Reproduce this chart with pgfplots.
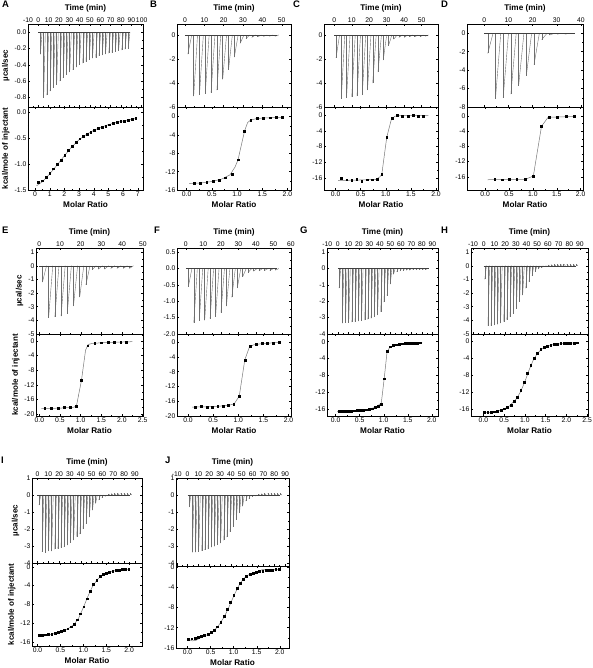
\documentclass[border=0pt]{standalone}
\usepackage{fontspec}
\setmainfont{Liberation Sans}
\usepackage{pgfplots}
\pgfplotsset{compat=1.18}
\usepackage{pgfplotstable}

\definecolor{spk}{RGB}{110,110,110}
\definecolor{fitc}{RGB}{120,120,120}

\pgfplotsset{
 itc/.style={
   scale only axis, anchor=south west,
   axis line style={line width=0.5pt},
   tick align=inside,
   major tick length=2.2pt, minor tick length=1.3pt,
   tick style={line width=0.4pt, black},
   tick label style={font=\fontsize{6.8}{7.5}\selectfont},
   ylabel style={font=\bfseries\fontsize{8}{9}\selectfont},
   /pgf/number format/assume math mode=true,
   minor x tick num=1, minor y tick num=1,
   xticklabel style={inner sep=1.5pt}, yticklabel style={inner sep=1.5pt},
 },
 itctop/.style={itc, xticklabel pos=right, xlabel={Time (min)}, xlabel near ticks,
   xlabel style={font=\bfseries\fontsize{8.2}{9}\selectfont}},
 itcbot/.style={itc, xlabel={Molar Ratio}, xlabel near ticks,
   xlabel style={font=\bfseries\fontsize{8.2}{9}\selectfont}},
 zf/.style={/pgf/number format/.cd, fixed, fixed zerofill, precision=1},
 spkline/.style={color=spk, line width=0.4pt},
 base/.style={color=black!75, line width=0.4pt},
 fitl/.style={color=fitc, line width=0.5pt},
 pts/.style={only marks, mark=square*, mark size=0.9pt, black},
}
\newcommand{\spikes}[2]{%
  \addplot[spkline, ycomb] table[x=t,y=p]{#1};
  \addplot[spkline, quiver={u=#2, v={-1*(\thisrow{p})}}] table[x=t,y=p]{#1};
}

% ---------------- Panel A
\pgfplotstableread{
t p
2.0 -0.27
5.15 -0.80
8.3 -0.77
11.45 -0.72
14.6 -0.68
17.75 -0.64
20.9 -0.60
24.05 -0.56
27.2 -0.52
30.35 -0.49
33.5 -0.46
36.65 -0.43
39.8 -0.40
42.95 -0.38
46.1 -0.36
49.25 -0.34
52.4 -0.32
55.55 -0.31
58.7 -0.29
61.85 -0.28
65.0 -0.27
68.15 -0.26
71.3 -0.25
74.45 -0.24
77.6 -0.23
80.75 -0.22
83.9 -0.21
87.05 -0.20
}\sA
\pgfplotstableread{
x y
0.23 -1.35
0.49 -1.32
0.74 -1.25
1.00 -1.17
1.25 -1.09
1.51 -1.00
1.76 -0.92
2.02 -0.83
2.27 -0.74
2.53 -0.66
2.78 -0.58
3.04 -0.51
3.29 -0.46
3.55 -0.42
3.80 -0.38
4.06 -0.34
4.31 -0.31
4.57 -0.29
4.82 -0.27
5.08 -0.24
5.33 -0.22
5.59 -0.20
5.84 -0.18
6.10 -0.17
6.35 -0.15
6.61 -0.14
6.86 -0.12
}\pA
\pgfplotstableread{
x y
0.10 -1.42
0.50 -1.34
1.00 -1.19
1.50 -1.02
2.00 -0.84
2.50 -0.67
3.00 -0.53
3.50 -0.43
4.00 -0.35
4.50 -0.29
5.00 -0.24
5.50 -0.20
6.00 -0.17
6.50 -0.14
6.90 -0.12
}\fA
% ---------------- Panel B
\pgfplotstableread{
t p
1.5 -1.6
4.5 -5.1
7.5 -5.0
10.5 -4.9
13.5 -4.8
16.5 -4.6
19.5 -3.7
22.5 -2.9
25.5 -1.85
28.5 -0.7
31.5 -0.3
34.5 -0.2
37.5 -0.15
40.5 -0.12
43.5 -0.1
46.5 -0.1
}\sB
\pgfplotstableread{
x y
0.15 -14.6
0.27 -14.5
0.40 -14.3
0.52 -14.1
0.65 -13.8
0.77 -13.3
0.90 -12.5
1.02 -9.4
1.15 -3.1
1.27 -0.7
1.40 -0.4
1.52 -0.3
1.65 -0.25
1.78 -0.2
1.90 -0.15
}\pB
\pgfplotstableread{
x y
0.05 -14.6
0.30 -14.45
0.50 -14.15
0.70 -13.6
0.86 -12.7
0.96 -11.0
1.02 -9.4
1.09 -6.0
1.15 -3.1
1.21 -1.3
1.27 -0.75
1.40 -0.4
1.60 -0.27
1.90 -0.15
}\fB
% ---------------- Panel C
\pgfplotstableread{
t p
1 -1.9
4 -5.3
7 -5.25
10 -5.15
13 -5.1
16 -5.0
19 -4.6
22 -4.0
25 -3.1
28 -2.1
31 -0.9
34 -0.35
37 -0.2
40 -0.2
43 -0.15
46 -0.15
49 -0.15
52 -0.1
}\sC
\pgfplotstableread{
x y
0.12 -16.0
0.22 -16.4
0.32 -16.6
0.42 -16.2
0.52 -16.7
0.63 -16.4
0.73 -16.4
0.83 -16.2
0.92 -15.1
1.02 -5.6
1.12 -0.9
1.22 -0.1
1.33 -0.25
1.44 -0.25
1.54 -0.05
1.65 -0.3
1.75 -0.3
}\pC
\pgfplotstableread{
x y
0.05 -16.6
0.40 -16.5
0.80 -16.35
0.88 -15.7
0.92 -15.1
1.02 -5.6
1.11 -1.2
1.18 -0.35
1.28 -0.2
1.85 -0.2
}\fC
% ---------------- Panel D
\pgfplotstableread{
t p
1.4 -2.2
4.6 -7.1
7.8 -7.0
11.0 -6.6
14.2 -5.7
17.4 -4.6
20.6 -3.4
23.8 -0.7
27.0 -0.2
30.2 -0.1
33.4 -0.1
}\sD
\pgfplotstableread{
x y
0.20 -16.6
0.35 -16.8
0.51 -16.7
0.66 -16.7
0.84 -16.6
1.01 -15.8
1.18 -2.7
1.34 -0.3
1.51 -0.2
1.69 -0.1
1.87 -0.1
}\pD
\pgfplotstableread{
x y
0.05 -16.8
0.84 -16.7
1.01 -15.8
1.18 -2.7
1.32 -0.3
1.87 -0.1
}\fD
% ---------------- Panel E
\pgfplotstableread{
t p
1.5 -1.2
4.5 -3.8
7.5 -3.75
10.5 -3.7
13.5 -3.5
16.5 -2.95
19.5 -2.3
22.5 -1.4
25.5 -0.3
28.5 -0.25
31.5 -0.25
34.5 -0.2
37.5 -0.2
40.5 -0.2
43.5 -0.2
}\sE
\pgfplotstableread{
x y
0.13 -18.4
0.29 -18.4
0.45 -18.3
0.60 -18.2
0.74 -18.2
0.89 -17.8
1.02 -10.8
1.17 -1.3
1.34 -0.6
1.50 -0.5
1.66 -0.4
1.82 -0.35
1.97 -0.3
2.10 -0.25
}\pE
\pgfplotstableread{
x y
0.05 -18.5
0.50 -18.35
0.84 -18.1
0.90 -17.7
1.02 -10.8
1.12 -2.5
1.18 -1.0
1.28 -0.65
1.60 -0.45
2.25 -0.2
}\fE
% ---------------- Panel F
\pgfplotstableread{
t p
1.5 -0.55
4.6 -1.65
7.7 -1.6
10.8 -1.58
13.9 -1.53
17.0 -1.47
20.1 -1.35
23.2 -1.15
26.3 -0.88
29.4 -0.6
32.5 -0.25
35.6 -0.12
38.7 -0.08
41.8 -0.07
44.9 -0.06
48.0 -0.06
51.1 -0.05
}\sF
\pgfplotstableread{
x y
0.15 -17.7
0.26 -17.4
0.38 -17.6
0.48 -17.6
0.59 -17.3
0.70 -17.4
0.80 -17.1
0.91 -16.8
1.02 -14.6
1.13 -4.8
1.24 -1.1
1.35 -0.6
1.47 -0.35
1.58 -0.25
1.69 -0.2
1.82 -0.1
}\pF
\pgfplotstableread{
x y
0.08 -17.6
0.50 -17.45
0.80 -17.15
0.92 -16.7
1.02 -14.6
1.13 -4.8
1.22 -1.4
1.30 -0.75
1.50 -0.35
1.82 -0.1
}\fF
% ---------------- Panel G
\pgfplotstableread{
t p
1.2 -1.2
4.25 -3.35
7.3 -3.3
10.35 -3.3
13.4 -3.28
16.45 -3.25
19.5 -3.22
22.55 -3.2
25.6 -3.15
28.65 -3.1
31.7 -3.05
34.75 -2.95
37.8 -2.85
40.85 -2.65
43.9 -2.05
46.95 -1.65
50.0 -0.95
53.05 -0.35
56.1 -0.2
59.15 -0.15
62.2 -0.12
65.25 -0.1
68.3 -0.1
71.35 -0.08
74.4 -0.08
77.45 -0.07
80.5 -0.07
83.55 -0.06
}\sG
\pgfplotstableread{
x y
0.07 -16.6
0.13 -16.5
0.20 -16.55
0.26 -16.5
0.32 -16.5
0.38 -16.45
0.45 -16.4
0.51 -16.35
0.57 -16.3
0.63 -16.2
0.70 -16.1
0.76 -15.95
0.82 -15.7
0.88 -15.3
0.95 -14.8
1.01 -8.8
1.07 -2.2
1.13 -1.2
1.20 -0.9
1.26 -0.7
1.32 -0.6
1.38 -0.5
1.45 -0.45
1.51 -0.4
1.57 -0.38
1.63 -0.35
1.70 -0.3
1.76 -0.25
}\pG
\pgfplotstableread{
x y
0.03 -16.6
0.40 -16.45
0.70 -16.1
0.85 -15.5
0.95 -14.6
1.01 -8.8
1.07 -2.4
1.13 -1.3
1.25 -0.8
1.45 -0.5
1.80 -0.25
}\fG
% ---------------- Panel H
\pgfplotstableread{
t p
1.0 -1.0
3.95 -4.4
6.9 -4.4
9.85 -4.35
12.8 -4.3
15.75 -4.2
18.7 -4.1
21.65 -3.95
24.6 -3.75
27.55 -3.5
30.5 -3.15
33.45 -2.65
36.4 -2.15
39.35 -1.65
42.3 -1.2
45.25 -0.75
48.2 -0.45
51.15 -0.25
54.1 -0.15
57.05 -0.08
60.0 0.05
62.95 0.08
65.9 0.1
68.85 0.1
71.8 0.12
74.75 0.12
77.7 0.12
80.65 0.12
83.6 0.12
86.55 0.12
}\sH
\pgfplotstableread{
x y
0.02 -16.8
0.10 -16.8
0.18 -16.7
0.26 -16.6
0.34 -16.4
0.42 -16.2
0.50 -15.9
0.58 -15.5
0.66 -15.0
0.74 -14.2
0.82 -13.1
0.90 -11.6
0.98 -9.7
1.06 -7.6
1.14 -5.7
1.22 -4.1
1.30 -2.9
1.38 -2.0
1.46 -1.5
1.54 -1.15
1.62 -0.95
1.70 -0.8
1.78 -0.7
1.86 -0.6
1.94 -0.55
2.02 -0.5
2.10 -0.45
2.18 -0.42
2.26 -0.4
}\pH
\pgfplotstableread{
x y
0.00 -16.85
0.20 -16.75
0.40 -16.3
0.60 -15.5
0.80 -13.5
0.90 -11.8
1.00 -9.5
1.10 -6.8
1.20 -4.5
1.30 -2.9
1.40 -1.9
1.55 -1.1
1.70 -0.8
2.00 -0.55
2.26 -0.4
}\fH
% ---------------- Panel I
\pgfplotstableread{
t p
1.5 -0.6
4.4 -3.35
7.3 -3.4
10.2 -3.3
13.1 -3.3
16.0 -3.2
18.9 -3.15
21.8 -3.1
24.7 -3.05
27.6 -2.95
30.5 -2.8
33.4 -2.65
36.3 -2.45
39.2 -2.3
42.1 -2.0
45.0 -1.7
47.9 -1.3
50.8 -0.9
53.7 -0.5
56.6 -0.3
59.5 -0.15
62.4 -0.08
65.3 0.05
68.2 0.08
71.1 0.1
74.0 0.1
76.9 0.1
79.8 0.1
82.7 0.1
85.6 0.1
}\sI
\pgfplotstableread{
x y
0.03 -14.6
0.10 -14.6
0.17 -14.5
0.24 -14.4
0.31 -14.3
0.38 -14.15
0.45 -14.0
0.52 -13.8
0.59 -13.5
0.66 -13.2
0.73 -12.8
0.80 -12.2
0.87 -11.3
0.94 -10.0
1.01 -8.5
1.08 -6.8
1.15 -5.2
1.22 -3.8
1.29 -2.8
1.36 -2.1
1.43 -1.6
1.50 -1.3
1.57 -1.1
1.64 -0.9
1.71 -0.8
1.78 -0.7
1.85 -0.6
1.92 -0.55
1.99 -0.5
}\pI
\pgfplotstableread{
x y
0.03 -14.6
0.15 -14.75
0.30 -14.4
0.50 -13.9
0.65 -13.3
0.80 -12.3
0.90 -10.9
1.00 -8.7
1.10 -6.3
1.20 -4.2
1.30 -2.8
1.40 -1.8
1.50 -1.3
1.65 -0.9
1.80 -0.7
2.00 -0.5
}\fI
% ---------------- Panel J
\pgfplotstableread{
t p
1.5 -0.7
4.4 -3.35
7.3 -3.35
10.2 -3.3
13.1 -3.25
16.0 -3.2
18.9 -3.15
21.8 -3.05
24.7 -3.0
27.6 -2.9
30.5 -2.8
33.4 -2.65
36.3 -2.45
39.2 -2.15
42.1 -1.85
45.0 -1.45
47.9 -1.05
50.8 -0.65
53.7 -0.35
56.6 -0.2
59.5 -0.1
62.4 -0.05
65.3 0.05
68.2 0.08
71.1 0.1
74.0 0.1
76.9 0.1
79.8 0.1
82.7 0.1
85.6 0.1
}\sJ
\pgfplotstableread{
x y
0.02 -14.2
0.09 -14.15
0.16 -14.0
0.23 -13.9
0.30 -13.75
0.37 -13.55
0.44 -13.3
0.51 -12.95
0.58 -12.5
0.65 -11.8
0.72 -10.9
0.79 -9.7
0.86 -8.4
0.93 -7.0
1.00 -5.6
1.07 -4.3
1.14 -3.2
1.21 -2.4
1.28 -1.85
1.35 -1.5
1.42 -1.25
1.49 -1.05
1.56 -0.9
1.63 -0.8
1.70 -0.72
1.77 -0.65
1.84 -0.6
1.91 -0.55
1.98 -0.5
}\pJ
\pgfplotstableread{
x y
0.02 -14.3
0.10 -14.6
0.18 -14.5
0.30 -13.9
0.50 -13.1
0.65 -11.9
0.80 -9.8
0.90 -7.9
1.00 -5.8
1.10 -3.9
1.20 -2.5
1.30 -1.7
1.40 -1.3
1.55 -0.9
1.62 -0.55
1.80 -0.6
1.98 -0.5
}\fJ

\begin{document}
\begin{tikzpicture}
\useasboundingbox (0,0) rectangle (592pt,668pt);
\tikzset{plab/.style={anchor=north west, inner sep=0pt, font=\bfseries\fontsize{9.5}{10}\selectfont}}
\node[plab] at (2pt,667pt) {A};
\node[plab] at (150pt,667pt) {B};
\node[plab] at (293pt,667pt) {C};
\node[plab] at (441pt,667pt) {D};
\node[plab] at (2pt,441pt) {E};
\node[plab] at (154pt,441pt) {F};
\node[plab] at (300pt,441pt) {G};
\node[plab] at (441pt,441pt) {H};
\node[plab] at (1pt,211pt) {I};
\node[plab] at (165pt,211pt) {J};

% ===== A
\begin{axis}[itctop, at={(28pt,561pt)}, width=115pt, height=83pt,
  xmin=-10, xmax=101.3, xtick={-10,0,...,100},
  ymin=-0.915, ymax=0.1, ytick={-0.8,-0.6,-0.4,-0.2,0}, yticklabel style={zf},
  ylabel={\textmu cal/sec}]
\spikes{\sA}{1.6}
\addplot[base] coordinates {(0,0) (89,0)};
\end{axis}
\begin{axis}[itcbot, at={(28pt,478pt)}, width=115pt, height=83pt,
  xmin=-0.48, xmax=7.36, xtick={0,1,...,7},
  ymin=-1.5, ymax=0.1, ytick={-1.5,-1,-0.5,0}, yticklabel style={zf},
  ylabel={kcal/mole of injectant}]
\addplot[fitl] table{\fA};
\addplot[pts] table{\pA};
\end{axis}

% ===== B
\begin{axis}[itctop, at={(177pt,561pt)}, width=114pt, height=83pt,
  xmin=-4.1, xmax=54.8, xtick={0,10,...,50},
  ymin=-6, ymax=0.92, ytick={-6,-4,-2,0}]
\spikes{\sB}{2.0}
\addplot[base] coordinates {(0,0) (47.5,0)};
\end{axis}
\begin{axis}[itcbot, at={(177pt,478pt)}, width=114pt, height=83pt,
  xmin=-0.19, xmax=2.07, xtick={0,0.5,...,2}, xticklabel style={zf},
  ymin=-16, ymax=2.1, ytick={-16,-12,-8,-4,0}]
\addplot[fitl] table{\fB};
\addplot[pts] table{\pB};
\end{axis}

% ===== C
\begin{axis}[itctop, at={(324pt,561pt)}, width=114pt, height=83pt,
  xmin=-5.9, xmax=59.4, xtick={0,10,...,60},
  ymin=-6, ymax=0.92, ytick={-6,-4,-2,0}]
\spikes{\sC}{2.0}
\addplot[base] coordinates {(0,0) (53.5,0)};
\end{axis}
\begin{axis}[itcbot, at={(324pt,478pt)}, width=114pt, height=83pt,
  xmin=-0.23, xmax=2.04, xtick={0,0.5,...,2}, xticklabel style={zf},
  ymin=-19, ymax=2, ytick={-16,-12,-8,-4,0}]
\addplot[fitl] table{\fC};
\addplot[pts] table{\pC};
\end{axis}

% ===== D
\begin{axis}[itctop, at={(467pt,561pt)}, width=116pt, height=83pt,
  xmin=-7.2, xmax=40.9, xtick={0,10,...,40},
  ymin=-8, ymax=1, ytick={-8,-6,-4,-2,0}]
\spikes{\sD}{2.2}
\addplot[base] coordinates {(0,0) (37.5,0)};
\end{axis}
\begin{axis}[itcbot, at={(467pt,478pt)}, width=116pt, height=83pt,
  xmin=-0.38, xmax=2.05, xtick={0,0.5,...,2}, xticklabel style={zf},
  ymin=-19.5, ymax=2.4, ytick={-16,-12,-8,-4,0}]
\addplot[fitl] table{\fD};
\addplot[pts] table{\pD};
\end{axis}

% ===== E
\begin{axis}[itctop, at={(36pt,334pt)}, width=107pt, height=86pt,
  xmin=-1.6, xmax=50.1, xtick={0,10,...,50},
  ymin=-5, ymax=1.3, ytick={-5,-4,...,1},
  ylabel={\textmu cal/sec}]
\spikes{\sE}{2.0}
\addplot[base] coordinates {(0,0) (44.7,0)};
\end{axis}
\begin{axis}[itcbot, at={(36pt,252pt)}, width=107pt, height=82pt,
  xmin=-0.08, xmax=2.51, xtick={0,0.5,...,2.5}, xticklabel style={zf},
  ymin=-20.5, ymax=1.9, ytick={-20,-16,-12,-8,-4,0},
  ylabel={kcal/mole of injectant}]
\addplot[fitl] table{\fE};
\addplot[pts] table{\pE};
\end{axis}

% ===== F
\begin{axis}[itctop, at={(177pt,334pt)}, width=114pt, height=86pt,
  xmin=-5, xmax=60.1, xtick={0,10,...,60},
  ymin=-2, ymax=0.63, ytick={-2,-1.5,-1,-0.5,0,0.5}, yticklabel style={zf}]
\spikes{\sF}{2.0}
\addplot[base] coordinates {(0,0) (52,0)};
\end{axis}
\begin{axis}[itcbot, at={(177pt,252pt)}, width=114pt, height=82pt,
  xmin=-0.22, xmax=2.05, xtick={0,0.5,...,2}, xticklabel style={zf},
  ymin=-20, ymax=2.2, ytick={-20,-16,-12,-8,-4,0}]
\addplot[fitl] table{\fF};
\addplot[pts] table{\pF};
\end{axis}

% ===== G
\begin{axis}[itctop, at={(327pt,334pt)}, width=111pt, height=86pt,
  xmin=-10.3, xmax=95.4, xtick={-10,0,...,90},
  ymin=-4, ymax=1.26, ytick={-4,-3,...,1}]
\spikes{\sG}{1.5}
\addplot[base] coordinates {(0,0) (86.7,0)};
\end{axis}
\begin{axis}[itcbot, at={(327pt,252pt)}, width=111pt, height=82pt,
  xmin=-0.18, xmax=2.13, xtick={0,0.5,...,2}, xticklabel style={zf},
  ymin=-17.7, ymax=1.83, ytick={-16,-12,-8,-4,0}]
\addplot[fitl] table{\fG};
\addplot[pts] table{\pG};
\end{axis}

% ===== H
\begin{axis}[itctop, at={(471pt,334pt)}, width=117pt, height=86pt,
  xmin=-11.9, xmax=97.5, xtick={-10,0,...,90},
  ymin=-5, ymax=1.3, ytick={-5,-4,...,1}]
\spikes{\sH}{1.5}
\addplot[base] coordinates {(0,0) (86.6,0)};
\end{axis}
\begin{axis}[itcbot, at={(471pt,252pt)}, width=117pt, height=82pt,
  xmin=-0.3, xmax=2.52, xtick={0,0.5,...,2.5}, xticklabel style={zf},
  ymin=-17.6, ymax=1.65, ytick={-16,-12,-8,-4,0}]
\addplot[fitl] table{\fH};
\addplot[pts] table{\pH};
\end{axis}

% ===== I
\begin{axis}[itctop, at={(32pt,105pt)}, width=110pt, height=85pt,
  xmin=-5, xmax=96.5, xtick={-10,0,...,90},
  ymin=-4, ymax=1, ytick={-4,-3,...,1},
  ylabel={\textmu cal/sec}]
\spikes{\sI}{1.5}
\addplot[base] coordinates {(0,0) (85.5,0)};
\end{axis}
\begin{axis}[itcbot, at={(32pt,22pt)}, width=110pt, height=83pt,
  xmin=-0.12, xmax=2.28, xtick={0,0.5,...,2}, xticklabel style={zf},
  ymin=-16.9, ymax=0.8, ytick={-16,-12,-8,-4,0},
  ylabel={kcal/mole of injectant}]
\addplot[fitl] table{\fI};
\addplot[pts] table{\pI};
\end{axis}

% ===== J
\begin{axis}[itctop, at={(176pt,102pt)}, width=113pt, height=88pt,
  xmin=-10.7, xmax=93.6, xtick={-10,0,...,90},
  ymin=-4.14, ymax=1, ytick={-4,-3,...,1}]
\spikes{\sJ}{1.5}
\addplot[base] coordinates {(0,0) (85.3,0)};
\end{axis}
\begin{axis}[itcbot, at={(176pt,20pt)}, width=113pt, height=82pt,
  xmin=-0.25, xmax=2.2, xtick={0,0.5,...,2}, xticklabel style={zf},
  ymin=-16, ymax=0.15, ytick={-16,-12,-8,-4,0}]
\addplot[fitl] table{\fJ};
\addplot[pts] table{\pJ};
\end{axis}
\end{tikzpicture}
\end{document}
